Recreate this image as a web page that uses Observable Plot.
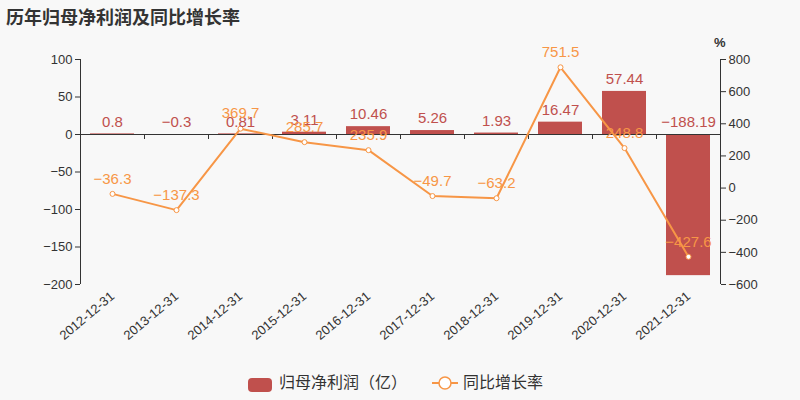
<!DOCTYPE html>
<html><head><meta charset="utf-8">
<script src="https://cdn.jsdelivr.net/npm/d3@7"></script>
<script src="https://cdn.jsdelivr.net/npm/@observablehq/plot@0.6"></script>
<style>
body{margin:0;background:#f8f8f8;font-family:"Liberation Sans",Arial,"Noto Sans CJK SC",sans-serif;}
#wrap{position:relative;width:800px;height:400px;background:#f8f8f8;overflow:hidden;}
#title{position:absolute;left:6px;top:3px;font-size:18px;font-weight:bold;color:#333;}
#chart{position:absolute;left:0;top:0;}
#legend{position:absolute;top:371px;left:0;width:800px;font-size:16px;color:#333;}
.li{position:absolute;top:0;height:24px;line-height:24px;}
</style></head><body>
<div id="wrap">
<div id="chart"></div>
<div id="title">历年归母净利润及同比增长率</div>
<div id="legend">
  <div class="li" style="left:248px;"><span style="position:absolute;left:0;top:7px;width:24px;height:14px;border-radius:4px;background:#c0504d;"></span><span style="position:absolute;left:31px;white-space:nowrap;">归母净利润（亿）</span></div>
  <div class="li" style="left:432px;"><svg style="position:absolute;left:0;top:4px" width="26" height="16"><line x1="0" y1="8" x2="26" y2="8" stroke="#f79646" stroke-width="2"/><circle cx="13" cy="8" r="6" fill="#fff" stroke="#f79646" stroke-width="1.5"/></svg><span style="position:absolute;left:31px;white-space:nowrap;">同比增长率</span></div>
</div>
</div>
<script>
const dates = ["2012-12-31","2013-12-31","2014-12-31","2015-12-31","2016-12-31","2017-12-31","2018-12-31","2019-12-31","2020-12-31","2021-12-31"];
const profit = [0.8, -0.3, 0.81, 3.11, 10.46, 5.26, 1.93, 16.47, 57.44, -188.19];
const growth = [-36.3, -137.3, 369.7, 285.7, 235.9, -49.7, -63.2, 751.5, 248.8, -427.6];
const leftTicks = [-200, -150, -100, -50, 0, 50, 100];
const rightTicks = [-600, -400, -200, 0, 200, 400, 600, 800];

const red = "#c0504d", orange = "#f79646", ink = "#333";
const L0 = -200, L1 = 100, R0 = -600, R1 = 800;
const toLeft = v => L0 + (v - R0) / (R1 - R0) * (L1 - L0);
const fromLeft = v => R0 + (v - L0) / (L1 - L0) * (R1 - R0);
const fmt = v => { const r = Math.round(v * 100) / 100; return (r < 0 ? "\u2212" : "") + Math.abs(r); };

const data = dates.map((d, i) => ({date: d, profit: profit[i], growth: growth[i], g: toLeft(growth[i])}));
const tickLen = 5 / 0.75; // 5px in left-axis units

const plot = Plot.plot({
  width: 800, height: 400,
  marginLeft: 80, marginRight: 80, marginTop: 59, marginBottom: 116,
  style: {background: "transparent", fontFamily: "'Liberation Sans', Arial, 'Noto Sans CJK SC', sans-serif", fontSize: "13px", color: ink},
  x: {domain: dates, paddingInner: 0.31, paddingOuter: 0.155},
  y: {domain: [L0, L1]},
  marks: [
    Plot.barY(data, {x: "date", y: "profit", fill: red}),
    Plot.ruleY([0], {stroke: ink, strokeWidth: 1}),
    Plot.ruleX(dates, {x: d => d, y1: 0, y2: -tickLen, dx: -32, stroke: ink}),
    Plot.ruleX([dates[dates.length - 1]], {x: d => d, y1: 0, y2: -tickLen, dx: 32, stroke: ink}),
    Plot.ruleX([dates[0]], {x: d => d, y1: L0, y2: L1, dx: -32, stroke: ink}),
    Plot.ruleX([dates[dates.length - 1]], {x: d => d, y1: L0, y2: L1, dx: 32, stroke: ink}),
    Plot.axisY({anchor: "left", ticks: leftTicks, tickSize: 5, tickPadding: 3, label: null, tickFormat: fmt, fill: ink, fontSize: 13}),
    Plot.axisY({anchor: "right", ticks: rightTicks.map(toLeft), tickSize: 5, tickPadding: 3, label: null, tickFormat: v => fmt(fromLeft(v)), fill: ink, fontSize: 13}),
    Plot.axisX({anchor: "bottom", tickSize: 0, tickPadding: 10, tickRotate: -40, label: null, fill: ink, fontSize: 13}),
    Plot.line(data, {x: "date", y: "g", stroke: orange, strokeWidth: 2}),
    Plot.dot(data, {x: "date", y: "g", r: 2.5, fill: "#fff", stroke: orange, strokeWidth: 1}),
    Plot.text(data, {x: "date", y: d => Math.max(0, d.profit), text: d => fmt(d.profit), dy: -12, fill: red, fontSize: 15}),
    Plot.text(data, {x: "date", y: "g", text: d => fmt(d.growth), dy: -15, fill: orange, fontSize: 15}),
    Plot.text(["%"], {frameAnchor: "top-right", dx: 5, dy: -22, text: d => d, fill: ink, fontSize: 13, fontWeight: "bold"})
  ]
});
document.getElementById("chart").appendChild(plot);
</script>
</body></html>
